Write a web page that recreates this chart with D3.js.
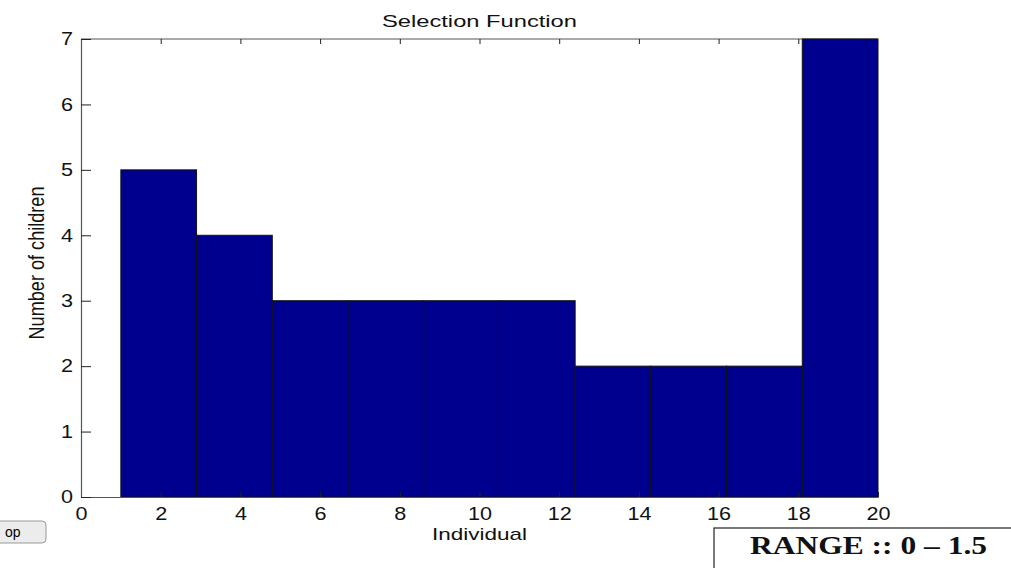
<!DOCTYPE html>
<html>
<head>
<meta charset="utf-8">
<script src="https://cdn.jsdelivr.net/npm/d3@7"></script>
<style>
  body { margin: 0; background: #fff; }
  svg { display: block; }
  .tick text { font-family: "Liberation Sans", Arial, sans-serif; font-size: 18px; fill: #111; }
</style>
</head>
<body>
<svg id="chart" width="1011" height="568"></svg>
<script>

// histogram of 20 individuals, 10 bins between 1 and 20
var binEdges = [1, 2.9, 4.8, 6.7, 8.6, 10.5, 12.4, 14.3, 16.2, 18.1, 20];
var counts = [5, 4, 3, 3, 3, 3, 2, 2, 2, 7];
var xTicks = [0, 2, 4, 6, 8, 10, 12, 14, 16, 18, 20];
var yTicks = [0, 1, 2, 3, 4, 5, 6, 7];

var svg = d3.select("#chart");

// note: "top" is taken by window.top, so use other names
var axLeft = 81, axRight = 878, axTop = 39, axBottom = 497;
var stretch = 1.2; // the screenshot text is a bit wide

var x = d3.scaleLinear().domain([0, 20]).range([axLeft, axRight]);
var y = d3.scaleLinear().domain([0, 7]).range([axBottom, axTop]);

var bins = counts.map(function(c, i) {
  return { x0: binEdges[i], x1: binEdges[i + 1], n: c };
});

// top box line first, bars sit on top of it (like matlab)
svg.append("line")
  .attr("x1", axLeft).attr("x2", axRight)
  .attr("y1", axTop).attr("y2", axTop)
  .attr("stroke", "#555").attr("stroke-width", 1.2);

// top ticks
svg.append("g")
  .attr("transform", "translate(0," + axTop + ")")
  .call(d3.axisTop(x).tickValues(xTicks.slice(1, 10)).tickSizeInner(-5).tickSizeOuter(0).tickFormat(""))
  .select(".domain").remove();

svg.append("g")
  .selectAll("rect")
  .data(bins)
  .enter().append("rect")
  .attr("x", function(d) { return x(d.x0); })
  .attr("y", function(d) { return y(d.n); })
  .attr("width", function(d) { return x(d.x1) - x(d.x0); })
  .attr("height", function(d) { return y(0) - y(d.n); })
  .attr("fill", "#00008f")
  .attr("stroke", "#111")
  .attr("stroke-width", 1);

var xAxis = svg.append("g")
  .attr("transform", "translate(0," + axBottom + ")")
  .call(d3.axisBottom(x).tickValues(xTicks).tickFormat(d3.format("d")).tickSizeInner(-5).tickSizeOuter(0));

var yAxis = svg.append("g")
  .attr("transform", "translate(" + axLeft + ",0)")
  .call(d3.axisLeft(y).tickValues(yTicks).tickFormat(d3.format("d")).tickSizeInner(-10).tickSizeOuter(0));

svg.selectAll(".domain").attr("stroke", "#555").attr("stroke-width", 1.2);
svg.selectAll(".tick line").attr("stroke", "#222");

xAxis.selectAll(".tick text")
  .attr("y", 10)
  .attr("dy", "0.71em")
  .attr("transform", "scale(" + stretch + ",1)");

yAxis.selectAll(".tick text")
  .attr("x", -8 / stretch)
  .attr("transform", "scale(" + stretch + ",1)");

svg.append("text")
  .attr("x", (axLeft + axRight) / 2)
  .attr("y", 27)
  .attr("text-anchor", "middle")
  .attr("textLength", 195)
  .attr("lengthAdjust", "spacingAndGlyphs")
  .style("font-family", "Liberation Sans, Arial, sans-serif")
  .style("font-size", "17px")
  .style("fill", "#111")
  .text("Selection Function");

svg.append("text")
  .attr("x", (axLeft + axRight) / 2)
  .attr("y", 540)
  .attr("text-anchor", "middle")
  .attr("textLength", 95)
  .attr("lengthAdjust", "spacingAndGlyphs")
  .style("font-family", "Liberation Sans, Arial, sans-serif")
  .style("font-size", "17px")
  .style("fill", "#111")
  .text("Individual");

svg.append("text")
  .attr("transform", "translate(44,263) scale(1.25,1) rotate(-90)")
  .attr("text-anchor", "middle")
  .attr("textLength", 153)
  .attr("lengthAdjust", "spacingAndGlyphs")
  .style("font-family", "Liberation Sans, Arial, sans-serif")
  .style("font-size", "17px")
  .style("fill", "#111")
  .text("Number of children");

// cut-off button at the bottom left
svg.append("rect")
  .attr("x", -6).attr("y", 521)
  .attr("width", 52).attr("height", 22)
  .attr("rx", 4)
  .attr("fill", "#ececec")
  .attr("stroke", "#999");

svg.append("text")
  .attr("x", 5).attr("y", 537)
  .style("font-family", "Liberation Sans, Arial, sans-serif")
  .style("font-size", "14px")
  .text("op");

// range box
svg.append("rect")
  .attr("x", 714).attr("y", 528)
  .attr("width", 310).attr("height", 50)
  .attr("fill", "#fff")
  .attr("stroke", "#222")
  .attr("stroke-width", 1.2);

svg.append("text")
  .attr("x", 750).attr("y", 554)
  .attr("textLength", 237)
  .attr("lengthAdjust", "spacingAndGlyphs")
  .style("font-family", "Liberation Serif, serif")
  .style("font-weight", "bold")
  .style("font-size", "25px")
  .style("fill", "#111")
  .text("RANGE :: 0 \u2013 1.5");

</script>
</body>
</html>
